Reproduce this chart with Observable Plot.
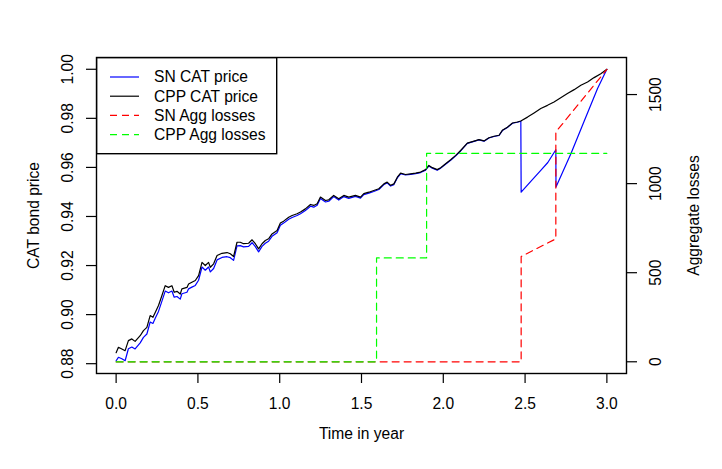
<!DOCTYPE html>
<html><head><meta charset="utf-8">
<script src="https://cdn.jsdelivr.net/npm/d3@7"></script>
<script src="https://cdn.jsdelivr.net/npm/@observablehq/plot@0.6"></script>
<style>
body{margin:0;background:#fff;}
#wrap{position:relative;width:722px;height:469px;font-family:"Liberation Sans",Arial,sans-serif;}
</style></head><body><div id="wrap"></div>
<script>
// time points shared by both price paths before the first SN loss
const timeCommon = [0,0.014,0.035,0.055,0.075,0.096,0.116,0.147,0.167,0.188,
  0.208,0.225,0.239,0.259,0.280,0.300,0.320,0.341,0.355,0.372,
  0.392,0.402,0.433,0.443,0.463,0.484,0.504,0.525,0.545,0.565,
  0.576,0.596,0.617,0.647,0.678,0.698,0.718,0.739,0.759,0.779,
  0.810,0.831,0.851,0.871,0.892,0.912,0.932,0.953,0.984,1.004,
  1.024,1.055,1.076,1.106,1.127,1.157,1.188,1.208,1.229,1.249,
  1.280,1.300,1.330,1.361,1.392,1.422,1.463,1.494,1.514,1.545,
  1.575,1.606,1.637,1.657,1.678,1.698,1.719,1.739,1.769,1.800,
  1.831,1.861,1.892,1.912,1.933,1.963,1.984,2.014,2.045,2.076,
  2.106,2.147,2.188,2.218,2.249,2.279,2.310,2.341,2.361,2.392,
  2.423,2.453,2.474];
const timeCPPTail = [2.515,2.555,2.596,2.637,2.677,2.718,2.759,2.800,2.841,2.882,2.922,2.963,3.000];
const timeSNTail = [2.476,2.535,2.596,2.639,2.688,2.689,2.780,2.861,2.943,3.000];

const priceCPP = [0.8845,0.8867,0.8860,0.8853,0.8894,0.8901,0.8891,0.8914,0.8935,0.8948,
  0.8996,0.8989,0.9009,0.9037,0.9078,0.9118,0.9111,0.9118,0.9091,0.9095,
  0.9084,0.9105,0.9111,0.9125,0.9132,0.9139,0.9159,0.9213,0.9200,0.9213,
  0.9193,0.9207,0.9241,0.9250,0.9253,0.9248,0.9237,0.9295,0.9295,0.9289,
  0.9291,0.9305,0.9289,0.9268,0.9289,0.9302,0.9309,0.9329,0.9343,0.9373,
  0.9381,0.9397,0.9404,0.9411,0.9418,0.9431,0.9449,0.9445,0.9452,0.9479,
  0.9465,0.9468,0.9486,0.9472,0.9486,0.9479,0.9486,0.9479,0.9493,0.9499,
  0.9506,0.9513,0.9533,0.9540,0.9527,0.9533,0.9560,0.9577,0.9571,0.9574,
  0.9577,0.9581,0.9591,0.9608,0.9599,0.9591,0.9599,0.9615,0.9631,0.9649,
  0.9669,0.9699,0.9707,0.9713,0.9708,0.9721,0.9727,0.9731,0.9751,0.9764,
  0.9781,0.9785,0.9789,
  0.9805,0.9822,0.9840,0.9853,0.9867,0.9884,0.9901,0.9917,0.9935,0.9948,0.9966,0.9982,1.0000];

const priceSN = [0.8812,0.8826,0.8820,0.8812,0.8861,0.8868,0.8860,0.8885,0.8907,0.8921,
  0.8970,0.8964,0.8985,0.9013,0.9055,0.9096,0.9089,0.9096,0.9071,0.9074,
  0.9063,0.9085,0.9091,0.9105,0.9112,0.9119,0.9140,0.9194,0.9181,0.9194,
  0.9174,0.9188,0.9223,0.9233,0.9236,0.9232,0.9221,0.9280,0.9281,0.9276,
  0.9278,0.9293,0.9277,0.9256,0.9278,0.9291,0.9299,0.9319,0.9334,0.9364,
  0.9373,0.9389,0.9396,0.9404,0.9411,0.9424,0.9442,0.9438,0.9446,0.9473,
  0.9459,0.9462,0.9481,0.9467,0.9481,0.9474,0.9482,0.9475,0.9489,0.9495,
  0.9502,0.9510,0.9530,0.9537,0.9524,0.9530,0.9557,0.9574,0.9569,0.9572,
  0.9575,0.9579,0.9589,0.9606,0.9597,0.9589,0.9597,0.9613,0.9629,0.9647,
  0.9667,0.9698,0.9706,0.9712,0.9707,0.9720,0.9726,0.9730,0.9750,0.9763,
  0.9780,0.9784,0.9788,
  0.9499,0.9543,0.9588,0.9620,0.9672,0.9520,0.9656,0.9788,0.9922,1.0000];

const lossTimeSN = [0,2.476,2.476,2.688,2.688,3.000];
const lossSN = [0,0,591,690,1290,1641];
const lossTimeCPP = [0,1.592,1.592,1.898,1.898,3.000];
const lossCPP = [0,0,583,583,1170,1170];

const xTicks = [0,0.5,1,1.5,2,2.5,3];
const priceTicks = [0.88,0.90,0.92,0.94,0.96,0.98,1.00];
const lossTicks = [0,500,1000,1500];

const seriesNames = ["SN CAT price","CPP CAT price","SN Agg losses","CPP Agg losses"];
const seriesColors = ["#0000ff","#000000","#ff0000","#00ff00"];
const seriesDash = [null,null,"7,5","7,5"];

const timeCPP = timeCommon.concat(timeCPPTail);
const timeSN = timeCommon.concat(timeSNTail);
const rowsCPP = timeCPP.map((t,i)=>({t, p: priceCPP[i]}));
const rowsSN = timeSN.map((t,i)=>({t, p: priceSN[i]}));
const rowsLossSN = lossTimeSN.map((t,i)=>({t, L: lossSN[i]}));
const rowsLossCPP = lossTimeCPP.map((t,i)=>({t, L: lossCPP[i]}));

const priceDomain = [0.8760, 1.0048];
const lossDomain = [-65.8, 1708];
const toP = d3.scaleLinear(lossDomain, priceDomain);

const fs = 15.6;
const chart = Plot.plot({
  width: 722, height: 469,
  marginLeft: 96, marginRight: 96, marginTop: 57, marginBottom: 96,
  style: {fontFamily: '"Liberation Sans", Arial, sans-serif', fontSize: fs + "px", color: "#000", background: "#fff"},
  x: {domain: [-0.12, 3.12]},
  y: {domain: priceDomain},
  marks: [
    Plot.line(rowsSN, {x: "t", y: "p", stroke: seriesColors[0], strokeWidth: 1.2}),
    Plot.line(rowsCPP, {x: "t", y: "p", stroke: seriesColors[1], strokeWidth: 1.2}),
    Plot.line(rowsLossSN, {x: "t", y: d => toP(d.L), stroke: seriesColors[2], strokeWidth: 1.2, strokeDasharray: seriesDash[2]}),
    Plot.line(rowsLossCPP, {x: "t", y: d => toP(d.L), stroke: seriesColors[3], strokeWidth: 1.2, strokeDasharray: seriesDash[3]}),
    Plot.frame({stroke: "#000", strokeWidth: 1.4}),
    Plot.axisX(xTicks, {tickFormat: d3.format(".1f"), tickSize: 10, tickPadding: 20, lineAnchor: "middle", label: null, strokeWidth: 1.2}),
    Plot.axisY(priceTicks, {anchor: "left", tickFormat: d3.format(".2f"), tickSize: 10, tickPadding: 19, tickRotate: -90, lineAnchor: "middle", label: null, strokeWidth: 1.2}),
    Plot.axisY(lossTicks.map(toP), {anchor: "right", tickFormat: d => String(Math.round(toP.invert(d))), tickSize: 10, tickPadding: 19, tickRotate: -90, lineAnchor: "middle", label: null, strokeWidth: 1.2}),
    Plot.text(["CAT bond price"], {frameAnchor: "left", textAnchor: "middle", dx: -63, rotate: -90, fill: "#000"}),
    Plot.text(["Aggregate losses"], {frameAnchor: "right", textAnchor: "middle", dx: 67, rotate: -90, fill: "#000"}),
    Plot.text(["Time in year"], {frameAnchor: "bottom", textAnchor: "middle", dy: 65, fill: "#000"})
  ]
});
const wrap = document.getElementById("wrap");
wrap.appendChild(chart);

// legend box in the top-left corner of the panel
const lg = d3.select(wrap).append("svg")
  .attr("width", 182).attr("height", 98)
  .style("position", "absolute").style("left", "96px").style("top", "57px")
  .style("font-family", '"Liberation Sans", Arial, sans-serif').style("font-size", fs + "px");
lg.append("rect").attr("x", 0.7).attr("y", 0.7).attr("width", 180).attr("height", 96)
  .attr("fill", "#fff").attr("stroke", "#000").attr("stroke-width", 1.4);
seriesNames.forEach((name, i) => {
  const y = 20 + i * 19.2;
  lg.append("line").attr("x1", 14).attr("x2", 43).attr("y1", y).attr("y2", y)
    .attr("stroke", seriesColors[i]).attr("stroke-width", 1.2)
    .attr("stroke-dasharray", seriesDash[i] || null);
  lg.append("text").attr("x", 58).attr("y", y).attr("dy", "0.35em").attr("fill", "#000").text(name);
});
</script>
</body></html>
